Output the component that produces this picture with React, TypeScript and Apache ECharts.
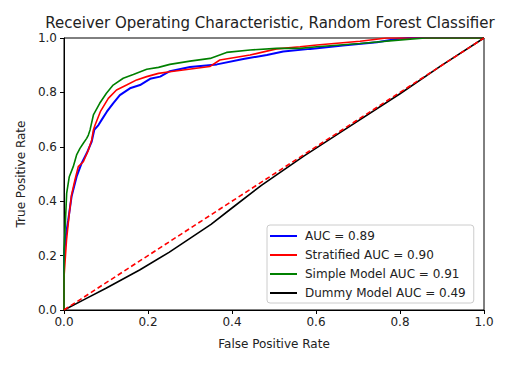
import React, { useEffect, useRef } from "react";
import * as echarts from "echarts";

const titleText = "Receiver Operating Characteristic, Random Forest Classifier";
const xLabel = "False Positive Rate";
const yLabel = "True Positive Rate";
const seriesNames = ["AUC = 0.89", "Stratified AUC = 0.90", "Simple Model AUC = 0.91", "Dummy Model AUC = 0.49"];

const blueRoc: number[][] = [
  [0, 0], [0, 0.2], [0.004, 0.27], [0.01, 0.33], [0.018, 0.417], [0.03, 0.49], [0.042, 0.54],
  [0.054, 0.576], [0.066, 0.619], [0.072, 0.662], [0.082, 0.68], [0.09, 0.7], [0.102, 0.729],
  [0.117, 0.76], [0.133, 0.79], [0.157, 0.815], [0.181, 0.827], [0.205, 0.85], [0.229, 0.858],
  [0.252, 0.878], [0.3, 0.893], [0.364, 0.903], [0.427, 0.923], [0.483, 0.9375], [0.522, 0.95],
  [0.586, 0.96], [0.664, 0.972], [0.745, 0.984], [0.792, 0.996], [0.82, 1], [1, 1],
];

const redRoc: number[][] = [
  [0, 0], [0, 0.12], [0.006, 0.257], [0.0126, 0.355], [0.018, 0.423], [0.026, 0.478],
  [0.034, 0.527], [0.046, 0.545], [0.058, 0.588], [0.066, 0.625], [0.07, 0.662], [0.074, 0.68],
  [0.0865, 0.729], [0.1055, 0.778], [0.125, 0.809], [0.149, 0.827], [0.173, 0.846],
  [0.197, 0.858], [0.225, 0.87], [0.252, 0.876], [0.347, 0.895], [0.371, 0.919],
  [0.443, 0.9375], [0.506, 0.96], [0.562, 0.968], [0.602, 0.974], [0.705, 0.988], [0.768, 1], [1, 1],
];

const greenRoc: number[][] = [
  [0, 0], [0, 0.22], [0.0024, 0.29], [0.0064, 0.43], [0.0126, 0.49], [0.022, 0.527], [0.03, 0.57],
  [0.038, 0.594], [0.046, 0.613], [0.054, 0.631], [0.058, 0.643], [0.062, 0.662], [0.07, 0.717],
  [0.085, 0.76], [0.101, 0.797], [0.117, 0.827], [0.141, 0.852], [0.165, 0.866], [0.197, 0.885],
  [0.225, 0.892], [0.252, 0.903], [0.3, 0.915], [0.348, 0.925], [0.387, 0.947], [0.443, 0.956],
  [0.506, 0.962], [0.562, 0.962], [0.602, 0.968], [0.705, 0.98], [0.824, 0.996], [0.86, 1], [1, 1],
];

const dummyRoc: number[][] = [
  [0, 0], [0.05, 0.04], [0.1, 0.08], [0.18, 0.147], [0.25, 0.212], [0.35, 0.315], [0.4, 0.375],
  [0.47, 0.458], [0.57, 0.565], [0.66, 0.655], [0.8, 0.795], [0.9, 0.9], [1, 1],
];

const diagonal: number[][] = [[0, 0], [1, 1]];

const FONT = "DejaVu Sans";

export default function App() {
  const ref = useRef<HTMLDivElement>(null);
  useEffect(() => {
    if (!ref.current) return;
    const chart = echarts.init(ref.current, undefined, { renderer: "svg" });
    const lineSeries = (name: string, data: number[][], color: string, width: number) => ({
      name,
      type: "line",
      data,
      showSymbol: false,
      symbol: "none",
      lineStyle: { color, width },
      itemStyle: { color },
      z: 3,
    });
    chart.setOption({
      animation: false,
      textStyle: { fontFamily: FONT },
      graphic: [
        {
          type: "text",
          x: 270,
          y: 23,
          style: {
            text: titleText,
            font: `15px '${FONT}'`,
            fill: "#222",
            textAlign: "center",
            textVerticalAlign: "middle",
            verticalAlign: "middle",
          },
        },
      ],
      grid: {
        left: 64,
        right: 47,
        top: 38,
        bottom: 60,
        show: true,
        borderColor: "#000",
        borderWidth: 1,
        backgroundColor: "transparent",
      },
      legend: {
        data: seriesNames,
        orient: "vertical",
        left: 267,
        top: 225,
        icon: "rect",
        itemWidth: 27,
        itemHeight: 2,
        itemGap: 5,
        padding: [4, 8, 3, 3],
        backgroundColor: "rgba(255,255,255,0.85)",
        borderColor: "#cccccc",
        borderWidth: 1,
        borderRadius: 3,
        textStyle: { fontFamily: FONT, fontSize: 12, lineHeight: 14, color: "#222", padding: [0, 0, 0, 3] },
      },
      xAxis: {
        type: "value",
        min: 0,
        max: 1,
        interval: 0.2,
        name: xLabel,
        nameLocation: "middle",
        nameGap: 28,
        nameTextStyle: { fontFamily: FONT, fontSize: 12, color: "#222" },
        axisLine: { show: true, lineStyle: { color: "#000", width: 1 } },
        axisTick: { show: true, length: 4, lineStyle: { color: "#000" } },
        axisLabel: {
          fontFamily: FONT,
          fontSize: 12,
          color: "#222",
          margin: 6,
          formatter: (v: number) => v.toFixed(1),
        },
        splitLine: { show: false },
      },
      yAxis: {
        type: "value",
        min: 0,
        max: 1,
        interval: 0.2,
        name: yLabel,
        nameLocation: "middle",
        nameGap: 35,
        nameTextStyle: { fontFamily: FONT, fontSize: 12, color: "#222" },
        axisLine: { show: true, lineStyle: { color: "#000", width: 1 } },
        axisTick: { show: true, length: 4, lineStyle: { color: "#000" } },
        axisLabel: {
          fontFamily: FONT,
          fontSize: 12,
          color: "#222",
          margin: 7,
          formatter: (v: number) => v.toFixed(1),
        },
        splitLine: { show: false },
      },
      series: [
        lineSeries(seriesNames[0], blueRoc, "#0000ff", 2),
        lineSeries(seriesNames[1], redRoc, "#ff0000", 1.6),
        lineSeries(seriesNames[2], greenRoc, "#008000", 1.6),
        lineSeries(seriesNames[3], dummyRoc, "#000000", 1.6),
        {
          name: "diagonal",
          type: "line",
          data: diagonal,
          showSymbol: false,
          symbol: "none",
          lineStyle: { color: "#ff0000", width: 1.6, type: [5, 3] },
          z: 4,
        },
      ],
    });
    return () => chart.dispose();
  }, []);
  return (
    <div
      ref={ref}
      style={{ position: "fixed", left: 0, top: 0, width: 531, height: 370, background: "#fff" }}
    />
  );
}
